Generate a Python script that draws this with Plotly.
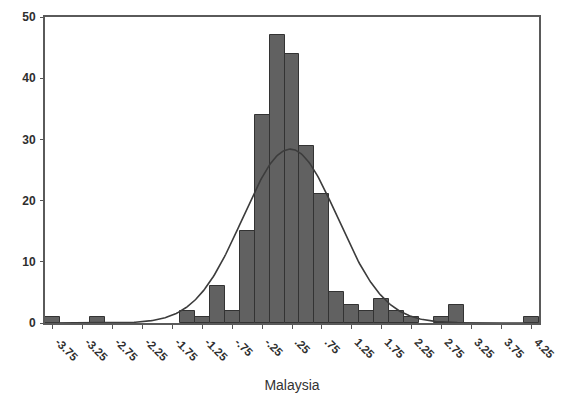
import numpy as np
import plotly.graph_objects as go

# Histogram bins (centres, width 0.25) and their frequencies
bin_centers = [-3.75, -3.0, -1.5, -1.25, -1.0, -0.75, -0.5, -0.25, 0.0, 0.25,
               0.5, 0.75, 1.0, 1.25, 1.5, 1.75, 2.0, 2.25, 2.75, 3.0, 4.25]
counts = [1, 1, 2, 1, 6, 2, 15, 34, 47, 44,
          29, 21, 5, 3, 2, 4, 2, 1, 1, 3, 1]
bin_width = 0.25

# Fitted normal density, scaled to frequency per bin
normal_mean = 0.22
normal_sd = 0.79

tick_values = [-3.75, -3.25, -2.75, -2.25, -1.75, -1.25, -0.75, -0.25, 0.25,
               0.75, 1.25, 1.75, 2.25, 2.75, 3.25, 3.75, 4.25]
tick_labels = ["-3.75", "-3.25", "-2.75", "-2.25", "-1.75", "-1.25", "-.75", "-.25",
               ".25", ".75", "1.25", "1.75", "2.25", "2.75", "3.25", "3.75", "4.25"]

x_lo, x_hi = -3.875, 4.375
n_obs = sum(counts)
xs = np.linspace(x_lo, x_hi, 400)
density = n_obs * bin_width / (normal_sd * np.sqrt(2 * np.pi)) * np.exp(
    -0.5 * ((xs - normal_mean) / normal_sd) ** 2)

fig = go.Figure()
fig.add_trace(go.Bar(
    x=bin_centers, y=counts, width=bin_width,
    marker=dict(color="#616161", line=dict(color="#333333", width=1)),
    showlegend=False,
))
fig.add_trace(go.Scatter(
    x=xs, y=density, mode="lines",
    line=dict(color="#3c3c3c", width=1.6),
    showlegend=False,
))

x_font = dict(family="Arial, Liberation Sans", size=11.5, color="#2e2e2e", weight="bold")
y_font = dict(family="Arial, Liberation Sans", size=12, color="#2e2e2e", weight="bold")

fig.update_layout(
    width=567, height=406,
    margin=dict(l=45, r=25, t=10, b=83),
    paper_bgcolor="white", plot_bgcolor="white",
    bargap=0,
    xaxis=dict(
        range=[x_lo, x_hi],
        tickmode="array", tickvals=tick_values, ticktext=tick_labels,
        tickangle=45, tickfont=x_font,
        ticklabelshift=6, ticklabelstandoff=2,
        ticks="outside", ticklen=4, tickcolor="#555555",
        showgrid=False, zeroline=False,
        showline=True, linecolor="#5a5a5a", linewidth=2, mirror=True,
        title=dict(text="Malaysia", standoff=18,
                   font=dict(family="Arial, Liberation Sans", size=14, color="#333333")),
    ),
    yaxis=dict(
        range=[0, 50], tickvals=[0, 10, 20, 30, 40, 50],
        tickfont=y_font, ticklabelstandoff=2,
        ticks="outside", ticklen=3, tickcolor="#555555",
        showgrid=False, zeroline=False,
        showline=True, linecolor="#5a5a5a", linewidth=2, mirror=True,
    ),
)

fig.write_html("out.html")
